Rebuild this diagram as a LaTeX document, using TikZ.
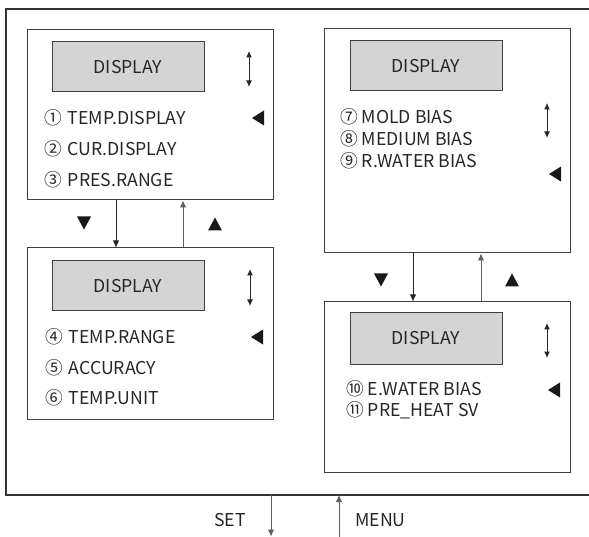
\documentclass[tikz,border=0pt]{standalone}
\usepackage{fontspec}
\setmainfont{Noto Sans CJK SC}
\usetikzlibrary{arrows.meta}
\newcommand{\cgap}{\hspace{2pt}}
\begin{document}
\begin{tikzpicture}[x=1pt,y=-1pt,
  txt/.style={font=\fontsize{17.7}{20}\selectfont, text=black!85},
  box/.style={draw=black!75, line width=1pt, inner sep=0pt, minimum width=246pt},
  disp/.style={draw=black!75, fill=black!17, line width=1pt, inner sep=0pt,
    minimum width=152pt, minimum height=50pt, txt},
  item/.style={anchor=base west, inner sep=0pt, txt},
  lbl/.style={anchor=base west, inner sep=0pt, txt},
  dn/.style={-{Latex[length=7pt,width=6.5pt]}, line width=0.9pt, black!85},
  upc/.style={-{Latex[length=7pt,width=6.5pt]}, line width=0.9pt, black!62},
  updown/.style={{Latex[length=6.5pt,width=6pt]}-{Latex[length=6.5pt,width=6pt]}, line width=1pt, black!85},
  frame/.style={line width=2pt, black!80},
  trileft/.pic={\fill[black!90] (-6,0) -- (6,-7.5) -- (6,7.5) -- cycle;},
  tridown/.pic={\fill[black!90] (-7,-6.5) -- (7,-6.5) -- (0,6.5) -- cycle;},
  triup/.pic={\fill[black!90] (-7,6.5) -- (7,6.5) -- (0,-6.5) -- cycle;}
]
\useasboundingbox (0,0) rectangle (589,537);
% outer frame
\draw[frame] (589,9) -- (6,9) -- (6,495) -- (589,495);
\coordinate (fb) at (0,495);

% box A
\node[box, minimum height=170pt] (A) at (150,115) {};
\node[disp] (dA) at (128,67) {DISPLAY};
\draw[updown] (249,51) -- (249,87);
\node[item] (a1) at (44,124.5) {① \cgap TEMP.DISPLAY};
\node[item] (a2) at (44,155.7) {② \cgap CUR.DISPLAY};
\node[item] (a3) at (44,186.7) {③ \cgap PRES.RANGE};
\pic at (258,118) {trileft};

% box B
\node[box, minimum height=171pt] (B) at (150,333.5) {};
\node[disp] (dB) at (128,286) {DISPLAY};
\draw[updown] (250,269) -- (250,306);
\node[item] (b1) at (45,344) {④ \cgap TEMP.RANGE};
\node[item] (b2) at (45,374) {⑤ \cgap ACCURACY};
\node[item] (b3) at (45,404) {⑥ \cgap TEMP.UNIT};
\pic at (257,337) {trileft};

% box C
\node[box, minimum height=224pt] (C) at (447,141) {};
\node[disp] (dC) at (426,66) {DISPLAY};
\draw[updown] (547,103) -- (547,138);
\node[item] (c1) at (340,123.3) {⑦ MOLD BIAS};
\node[item] (c2) at (340,145.6) {⑧ MEDIUM BIAS};
\node[item] (c3) at (340,167.7) {⑨ R.WATER BIAS};
\pic at (555,174) {trileft};

% box D
\node[box, minimum height=170pt] (D) at (447,387) {};
\node[disp, minimum height=51pt] (dD) at (426,338.5) {DISPLAY};
\draw[updown] (547,323) -- (547,358);
\node[item] (d1) at (346,395.7) {⑩ E.WATER BIAS};
\node[item] (d2) at (346,416.7) {⑪ PRE\_HEAT SV};
\pic at (554,390) {trileft};

% connectors A <-> B
\coordinate (xab) at (116,0);
\coordinate (xba) at (183,0);
\draw[dn] (A.south -| xab) -- (B.north -| xab);
\draw[upc] (B.north -| xba) -- (A.south -| xba);
\pic at (84,223) {tridown};
\pic at (215,224) {triup};

% connectors C <-> D
\coordinate (xcd) at (413,0);
\coordinate (xdc) at (481,0);
\draw[dn] (C.south -| xcd) -- (D.north -| xcd);
\draw[upc] (D.north -| xdc) -- (C.south -| xdc);
\pic at (381,280) {tridown};
\pic at (512,280) {triup};

% SET / MENU
\coordinate (setend) at (271,536.5);
\coordinate (menustart) at (339,537);
\draw[upc] (fb -| setend) -- (setend);
\draw[upc] (menustart) -- (fb -| menustart);
\node[lbl] (set) at (214,526) {SET};
\node[lbl] (menu) at (355,526) {MENU};
\end{tikzpicture}
\end{document}
